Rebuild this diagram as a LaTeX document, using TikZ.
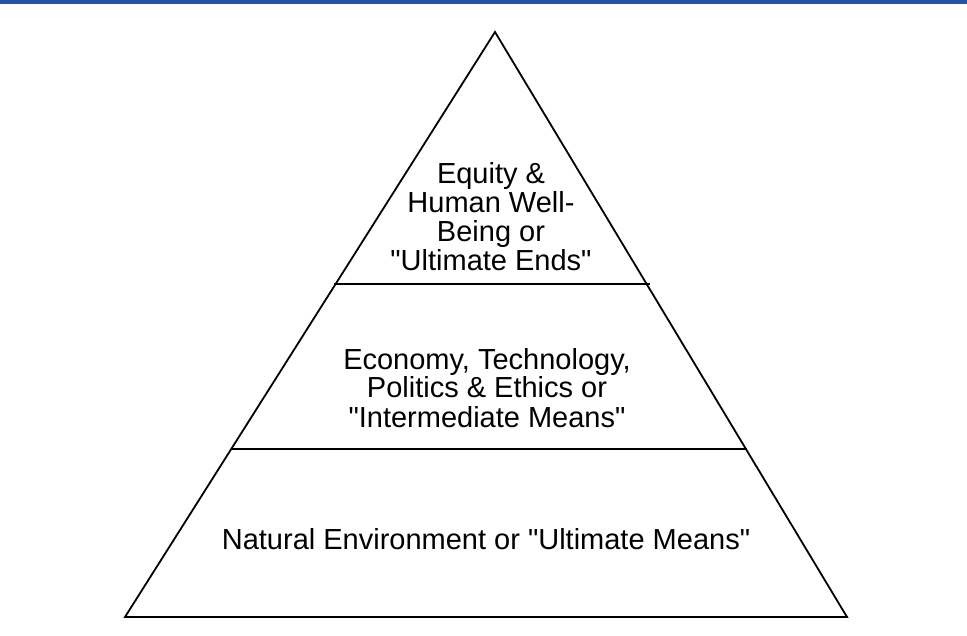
\documentclass[tikz,border=0pt]{standalone}
\usepackage{fontspec}
\newfontfamily\labfont{Liberation Sans}
\definecolor{topblue}{RGB}{42,82,160}
\begin{document}
\begin{tikzpicture}[x=1pt,y=-1pt,
  edge/.style={line width=1.8pt,line join=miter},
  divider/.style={line width=1.2pt},
  label/.style={font=\labfont\fontsize{29}{29}\selectfont,align=center,inner sep=0pt,anchor=base}]
\useasboundingbox (0,0) rectangle (967,636);
\fill[topblue] (0,0) rectangle (967,4);
\coordinate (apex) at (495,32);
\coordinate (bl) at (125,617);
\coordinate (br) at (847,617);
\draw[edge] (apex) -- (br) -- (bl) -- cycle;
\coordinate (d1l) at (334,284);
\coordinate (d1r) at (650,284);
\coordinate (d2l) at (231,449);
\coordinate (d2r) at (747,449);
\draw[divider] (d1l) -- (d1r);
\draw[divider] (d2l) -- (d2r);
\node[label] (top) at (491,271) {Equity \&\\Human Well-\\Being or\\"Ultimate Ends"};
\node[label] (mid) at (487,427) {Economy, Technology,\\Politics \& Ethics or\\"Intermediate Means"};
\node[label] (bot) at (486,549) {Natural Environment or "Ultimate Means"};
\end{tikzpicture}
\end{document}
